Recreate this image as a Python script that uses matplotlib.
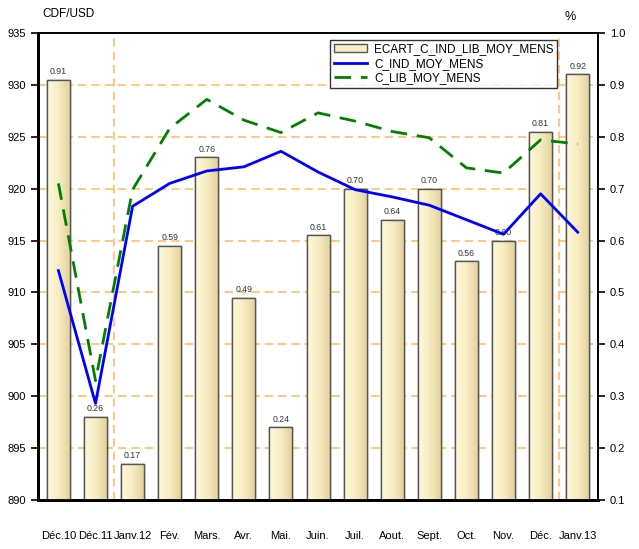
import numpy as np
import matplotlib.pyplot as plt
from matplotlib.colors import LinearSegmentedColormap

plt.rcParams['font.family'] = ['Liberation Sans', 'DejaVu Sans']

mois = ["Déc.10", "Déc.11", "Janv.12", "Fév.", "Mars.", "Avr.", "Mai.", "Juin.",
        "Juil.", "Aout.", "Sept.", "Oct.", "Nov.", "Déc.", "Janv.13"]
ecart = [0.91, 0.26, 0.17, 0.59, 0.76, 0.49, 0.24, 0.61, 0.70, 0.64, 0.70, 0.56, 0.60, 0.81, 0.92]
c_ind = [912.1, 899.3, 918.3, 920.5, 921.7, 922.1, 923.6, 921.6, 919.9, 919.2, 918.4, 917.0, 915.6, 919.5, 915.8]
c_lib = [920.5, 901.5, 919.9, 925.8, 928.6, 926.6, 925.4, 927.3, 926.5, 925.5, 924.9, 922.0, 921.5, 924.7, 924.3]

x = np.arange(len(mois))
orange = '#FFBF66'

fig = plt.figure(figsize=(6.39, 5.49), dpi=100)
ax2 = fig.add_axes([0.0595, 0.0893, 0.8765, 0.8507])
ax = ax2.twinx()
ax.yaxis.tick_left()
ax2.yaxis.tick_right()
ax.set_zorder(ax2.get_zorder() + 1)
ax.patch.set_visible(False)

# barres (axe de droite)
bars = ax2.bar(x, np.array(ecart) - 0.1, bottom=0.1, width=0.62, color='#F9EFC6',
               edgecolor='#555555', linewidth=1.0, zorder=3,
               label='ECART_C_IND_LIB_MOY_MENS')
cmap = LinearSegmentedColormap.from_list('g', ['#FFF9DC', '#F8EDC2', '#E2D29E'])
grad = np.linspace(0, 1, 64).reshape(1, -1)
for b in bars:
    bx, by = b.get_x(), b.get_y()
    im = ax2.imshow(grad, cmap=cmap, aspect='auto', zorder=3.5,
                    extent=[bx, bx + b.get_width(), by, by + b.get_height()])
    im.set_clip_path(b)
    edge = plt.Rectangle((bx, by), b.get_width(), b.get_height(), fill=False,
                         edgecolor='#555555', linewidth=1.0, zorder=4)
    ax2.add_patch(edge)
for xi, v in zip(x, ecart):
    ax2.text(xi, v + 0.007, f"{v:.2f}", ha='center', va='bottom', fontsize=6.3,
             color='#333333', zorder=5)
ax2.set_xlim(-0.55, len(mois) - 0.45)
ax2.set_ylim(0.1, 1.0)
ax2.set_yticks(np.arange(0.1, 1.01, 0.1))
ax2.set_yticklabels([f"{t:.1f}" for t in np.arange(0.1, 1.01, 0.1)])
for t in np.arange(0.1, 1.01, 0.1):
    ax2.axhline(t, color=orange, linestyle=(0, (5, 3)), linewidth=1.2, zorder=1)
for xv in [1.5, 13.5]:
    ax2.axvline(xv, color=orange, linestyle=(0, (5, 3)), linewidth=1.2, zorder=1)
ax2.set_xticks(x)
ax2.set_xticklabels(mois, fontsize=8)

# courbes (axe de gauche)
ax.plot(x, c_ind, color='#0000FF', linewidth=2.0, label='C_IND_MOY_MENS', zorder=6)
ax.plot(x, c_lib, color='#008000', linewidth=2.0, linestyle=(0, (6, 3.5)),
        label='C_LIB_MOY_MENS', zorder=6)
ax.set_ylim(890, 935)
ax.set_yticks(np.arange(890, 936, 5))

for a in (ax, ax2):
    a.tick_params(axis='y', labelsize=8, length=5, width=1.2, direction='out')
ax2.tick_params(axis='x', length=0, pad=22)
ax.tick_params(axis='x', length=0, labelbottom=False)

for a in (ax, ax2):
    a.spines['top'].set_linewidth(1.2)
    a.spines['right'].set_linewidth(1.2)
    a.spines['left'].set_linewidth(2.0)
    a.spines['bottom'].set_linewidth(2.0)

h1, l1 = ax2.get_legend_handles_labels()
h2, l2 = ax.get_legend_handles_labels()
leg = ax.legend(h1 + h2, l1 + l2, loc='upper left', bbox_to_anchor=(0.522, 0.985),
                fontsize=8.5, frameon=True, fancybox=False, edgecolor='black',
                borderpad=0.3, labelspacing=0.2, handlelength=2.8, handletextpad=0.6,
                borderaxespad=0)
leg.get_frame().set_linewidth(1.0)
leg.set_zorder(10)

fig.text(42 / 639, 1 - 14 / 549, "CDF/USD", fontsize=8.5, ha='left', va='center')
fig.text(570 / 639, 1 - 17 / 549, "%", fontsize=9, ha='center', va='center')

fig.savefig('out.png', dpi=100)
